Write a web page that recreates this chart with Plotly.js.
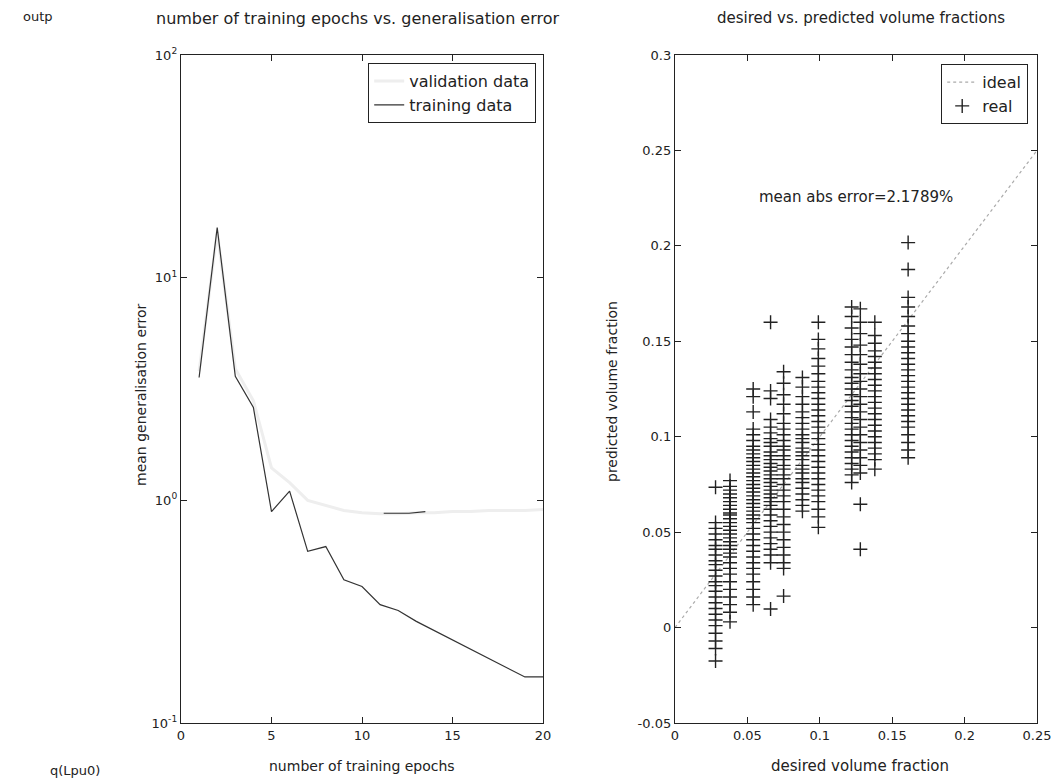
<!DOCTYPE html>
<html>
<head>
<meta charset="utf-8">
<script src="https://cdn.plot.ly/plotly-3.0.1.min.js"></script>
<style>html,body{margin:0;padding:0;background:#fff;}#chart{width:1060px;height:780px;}</style>
</head>
<body>
<div id="chart"></div>
<script>
// ---- left panel data ----
const epochs = [1,2,3,4,5,6,7,8,9,10,11,12,13,14,15,16,17,18,19,20];
const trainingError = [3.56,16.8,3.61,2.61,0.89,1.10,0.59,0.62,0.44,0.41,0.34,0.32,0.286,0.26,0.235,0.214,0.195,0.177,0.161,0.161];
const validationError = [3.8,16.0,3.9,2.8,1.4,1.2,1.0,0.95,0.9,0.88,0.87,0.87,0.88,0.88,0.89,0.89,0.9,0.9,0.9,0.91];
const segEpochs = [11.2,12.6,13.5];
const segError = [0.875,0.875,0.89];
const logTickVals = [0.1,1,10,100];
const logTickText = ['10<sup>-1</sup>','10<sup>0</sup>','10<sup>1</sup>','10<sup>2</sup>'];
const epochTicks = [0,5,10,15,20];

// ---- right panel data ----
const idealX = [0,0.25];
const idealY = [0,0.25];
const desiredLevels = [0.028,0.038,0.054,0.066,0.075,0.088,0.099,0.122,0.128,0.138,0.161];
const predA = [0.0735,0.055,0.052,0.049,0.046,0.043,0.041,0.038,0.035,0.033,0.030,0.027,0.024,0.022,0.019,0.016,0.013,0.010,0.007,0.004,0.001,-0.003,-0.007,-0.011,-0.0175];
const predB = [0.077,0.074,0.072,0.070,0.068,0.066,0.064,0.062,0.060,0.059,0.057,0.055,0.053,0.051,0.049,0.047,0.045,0.043,0.041,0.039,0.037,0.034,0.031,0.028,0.024,0.020,0.016,0.012,0.008,0.003];
const predC = [0.125,0.121,0.113,0.104,0.101,0.098,0.095,0.093,0.091,0.089,0.087,0.085,0.083,0.081,0.079,0.077,0.075,0.073,0.071,0.069,0.067,0.065,0.063,0.061,0.059,0.057,0.055,0.052,0.049,0.046,0.043,0.040,0.037,0.034,0.031,0.028,0.024,0.020,0.016,0.012];
const predD = [0.160,0.124,0.120,0.109,0.105,0.102,0.099,0.097,0.095,0.092,0.090,0.088,0.086,0.084,0.082,0.080,0.078,0.076,0.074,0.072,0.070,0.068,0.066,0.064,0.062,0.059,0.056,0.053,0.050,0.047,0.044,0.041,0.038,0.034,0.0097];
const predE = [0.134,0.128,0.122,0.117,0.112,0.107,0.104,0.101,0.098,0.095,0.093,0.090,0.088,0.085,0.083,0.080,0.078,0.075,0.072,0.069,0.066,0.062,0.058,0.054,0.050,0.046,0.042,0.038,0.034,0.031,0.0165];
const predF = [0.131,0.126,0.121,0.117,0.113,0.110,0.107,0.104,0.101,0.099,0.097,0.094,0.092,0.090,0.088,0.085,0.083,0.081,0.078,0.076,0.073,0.070,0.067,0.064,0.061];
const predG = [0.160,0.151,0.146,0.141,0.137,0.133,0.129,0.126,0.123,0.120,0.117,0.114,0.111,0.108,0.105,0.102,0.099,0.096,0.093,0.090,0.087,0.084,0.081,0.078,0.075,0.072,0.069,0.066,0.062,0.058,0.0525];
const predH = [0.168,0.163,0.157,0.151,0.147,0.143,0.139,0.135,0.131,0.128,0.125,0.122,0.119,0.116,0.113,0.110,0.107,0.104,0.101,0.098,0.095,0.092,0.089,0.086,0.083,0.080,0.076];
const predI = [0.167,0.160,0.154,0.148,0.143,0.138,0.133,0.129,0.125,0.121,0.117,0.113,0.109,0.105,0.101,0.097,0.093,0.089,0.085,0.081,0.0646,0.041];
const predJ = [0.160,0.153,0.149,0.145,0.142,0.139,0.136,0.133,0.130,0.127,0.124,0.121,0.118,0.115,0.112,0.109,0.106,0.103,0.100,0.097,0.094,0.091,0.088,0.083];
const predK = [0.2017,0.1876,0.173,0.168,0.163,0.158,0.154,0.150,0.147,0.144,0.141,0.138,0.135,0.132,0.129,0.126,0.123,0.120,0.117,0.114,0.111,0.108,0.105,0.101,0.097,0.093,0.089];
const volTicksX = [0,0.05,0.1,0.15,0.2,0.25];
const volTicksXText = ['0','0.05','0.1','0.15','0.2','0.25'];
const volTicksY = [-0.05,0,0.05,0.1,0.15,0.2,0.25,0.3];
const volTicksYText = ['-0.05','0','0.05','0.1','0.15','0.2','0.25','0.3'];

const predColumns = [predA,predB,predC,predD,predE,predF,predG,predH,predI,predJ,predK];
const realX = [], realY = [];
predColumns.forEach((col, i) => col.forEach(v => { realX.push(desiredLevels[i]); realY.push(v); }));

const FONT = 'DejaVu Sans, Liberation Sans, Arial, sans-serif';
const TXT = '#222';
const f = (s) => ({family: FONT, size: s, color: TXT});
const note = (text, x, y, size, extra) => Object.assign({text: text, xref: 'paper', yref: 'paper',
  x: x/1060, y: 1 - y/780, xanchor: 'center', yanchor: 'middle', showarrow: false, font: f(size)}, extra || {});

const traces = [
  {x: epochs, y: validationError, mode: 'lines', name: 'validation data',
   line: {color: '#eeeeee', width: 3}, xaxis: 'x', yaxis: 'y', legend: 'legend'},
  {x: epochs, y: trainingError, mode: 'lines', name: 'training data',
   line: {color: '#333', width: 1.2}, xaxis: 'x', yaxis: 'y', legend: 'legend'},
  {x: segEpochs, y: segError, mode: 'lines', showlegend: false,
   line: {color: '#333', width: 1.2}, xaxis: 'x', yaxis: 'y'},
  {x: idealX, y: idealY, mode: 'lines', name: 'ideal',
   line: {color: '#aaa', width: 1.2, dash: 'dot'}, xaxis: 'x2', yaxis: 'y2', legend: 'legend2'},
  {x: realX, y: realY, mode: 'markers', name: 'real',
   marker: {symbol: 'cross-thin-open', size: 10, color: '#222', line: {color: '#222', width: 1.4}},
   xaxis: 'x2', yaxis: 'y2', legend: 'legend2'}
];

const axisCommon = {showline: true, linecolor: '#222', linewidth: 1.2, mirror: 'ticks',
  ticks: 'inside', ticklen: 6, tickcolor: '#222', showgrid: false, zeroline: false,
  tickfont: f(13)};

const yTop = 1 - 55/780, yBot = 1 - 723/780;

const layout = {
  width: 1060, height: 780,
  margin: {l: 0, r: 0, t: 0, b: 0},
  paper_bgcolor: '#fff', plot_bgcolor: '#fff',
  font: f(13),
  xaxis: Object.assign({}, axisCommon, {domain: [181/1060, 543/1060], range: [0, 20],
    tickvals: epochTicks, anchor: 'y'}),
  yaxis: Object.assign({}, axisCommon, {domain: [yBot, yTop], type: 'log', range: [-1, 2],
    tickvals: logTickVals, ticktext: logTickText, anchor: 'x'}),
  xaxis2: Object.assign({}, axisCommon, {domain: [675/1060, 1037/1060], range: [0, 0.25],
    tickvals: volTicksX, ticktext: volTicksXText, anchor: 'y2'}),
  yaxis2: Object.assign({}, axisCommon, {domain: [yBot, yTop], range: [-0.05, 0.3],
    tickvals: volTicksY, ticktext: volTicksYText, anchor: 'x2'}),
  legend: {x: 536/1060, y: 1 - 63/780, xanchor: 'right', yanchor: 'top',
    bordercolor: '#222', borderwidth: 1.2, bgcolor: '#fff',
    font: f(16), tracegroupgap: 0},
  legend2: {x: 1028/1060, y: 1 - 64/780, xanchor: 'right', yanchor: 'top',
    bordercolor: '#222', borderwidth: 1.2, bgcolor: '#fff',
    font: f(16), tracegroupgap: 0},
  annotations: [
    note('number of training epochs vs. generalisation error', 358, 18, 16),
    note('desired vs. predicted volume fractions', 861, 18, 15),
    note('number of training epochs', 362, 766, 14),
    note('desired volume fraction', 860, 766, 15),
    note('mean generalisation error', 141, 395, 14, {textangle: -90}),
    note('predicted volume fraction', 612, 392, 14, {textangle: -90}),
    {text: 'mean abs error=2.1789%', xref: 'x2', yref: 'y2', x: 0.125, y: 0.2258,
     xanchor: 'center', yanchor: 'middle', showarrow: false, font: f(15)},
    note('outp', 38, 16, 13),
    note('q(Lpu0)', 75, 770, 13)
  ]
};

Plotly.newPlot('chart', traces, layout, {staticPlot: true, displayModeBar: false});
</script>
</body>
</html>
